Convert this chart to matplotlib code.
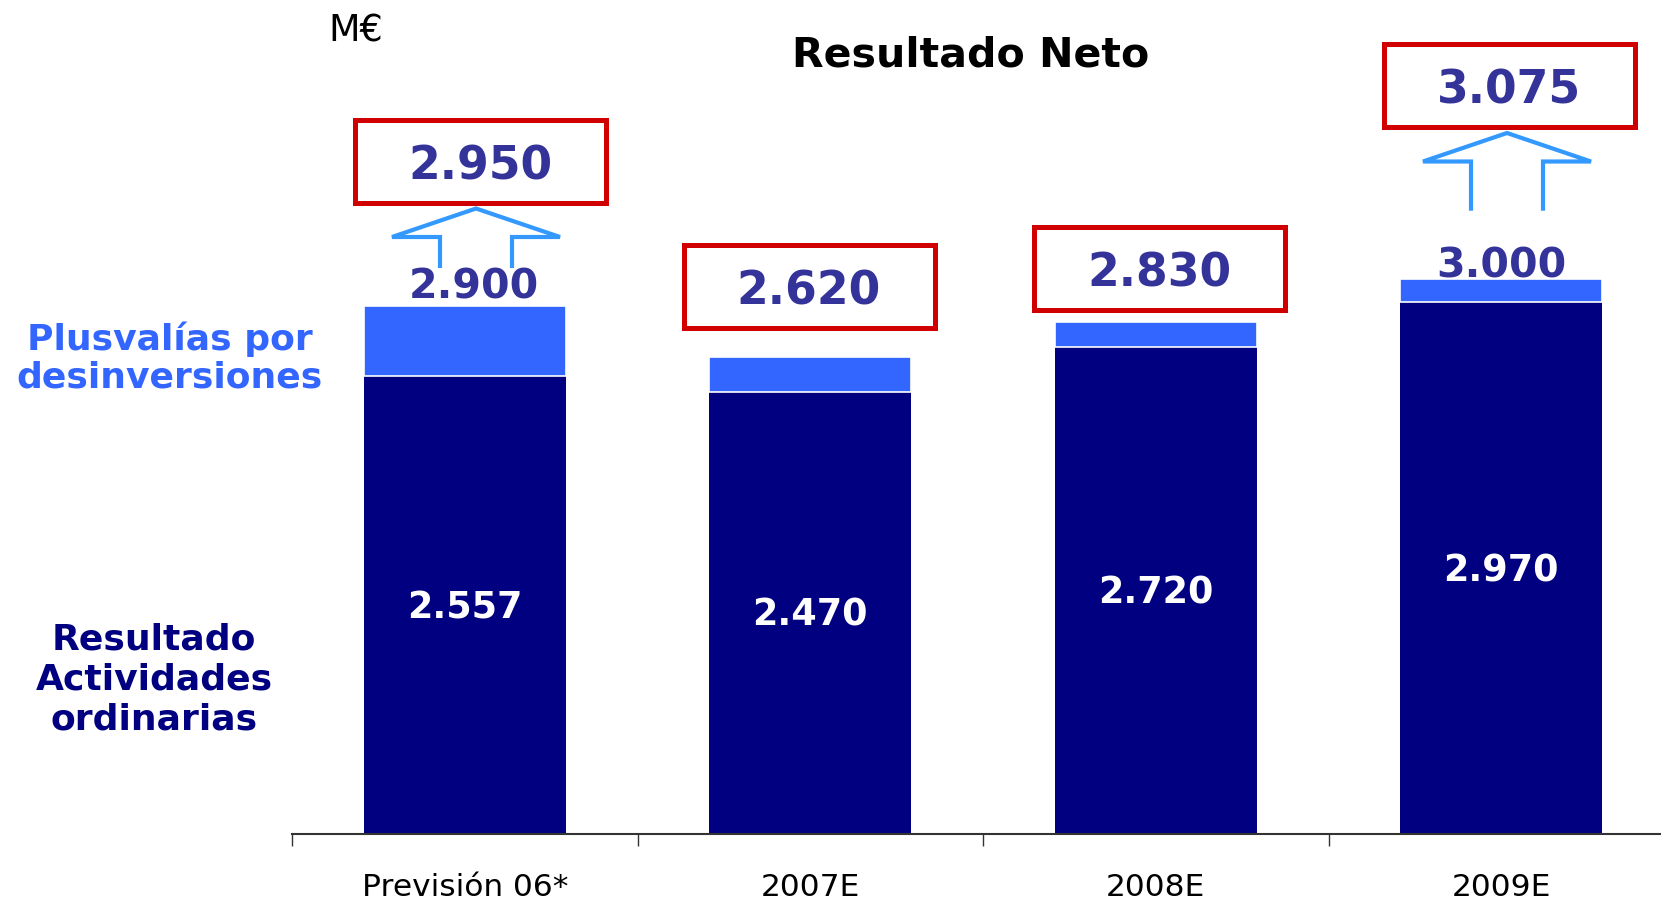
import matplotlib
matplotlib.use("Agg")
import matplotlib.pyplot as plt
from matplotlib.patches import Rectangle
from matplotlib.lines import Line2D

# ---------------- data ----------------
categories = ["Previsión 06*", "2007E", "2008E", "2009E"]
resultado_ordinario = [2557, 2470, 2720, 2970]      # Resultado Actividades ordinarias
plusvalias = [390, 195, 140, 130]                   # Plusvalías por desinversiones (bar heights as drawn)
resultado_neto = [2900, 2620, 2830, 3000]           # totals written above the bars
resultado_objetivo = [2950, 2620, 2830, 3075]       # values in the red boxes

# ---------------- style ----------------
NAVY = "#000080"
BLUE = "#3366FF"
LABEL = "#333399"
RED = "#D00000"
ARROW = "#3399FF"
W, H = 1661, 901
DPI = 100
plt.rcParams["font.family"] = ["DejaVu Sans"]


def fmt(v):
    return f"{v:,}".replace(",", ".")


fig = plt.figure(figsize=(W / DPI, H / DPI), dpi=DPI)
fig.patch.set_facecolor("white")

# main bar axes (right edge runs a little past the figure as in the original)
ax_left, ax_right, ax_bottom_px = 292, 1674, 833.5
ax = fig.add_axes([ax_left / W, (H - ax_bottom_px) / H,
                   (ax_right - ax_left) / W, ax_bottom_px / H])
ax.set_xlim(-0.5, len(categories) - 0.5)
ax.set_ylim(0, 4658)
ax.patch.set_alpha(0)

x = list(range(len(categories)))
bw = 0.585
ax.bar(x, resultado_ordinario, width=bw, color=NAVY, linewidth=0, zorder=2)
ax.bar(x, plusvalias, bottom=resultado_ordinario, width=bw, color=BLUE,
       edgecolor="white", linewidth=1.2, zorder=2)

for xi, v in zip(x, resultado_ordinario):
    ax.annotate(fmt(v), (xi, v / 2), xytext=(0, -9.6), textcoords="offset points",
                ha="center", va="baseline", color="white", fontsize=26.3,
                fontweight="bold", zorder=3)

for s in ["top", "right", "left"]:
    ax.spines[s].set_visible(False)
ax.spines["bottom"].set_linewidth(1.5)
ax.spines["bottom"].set_color("#333333")
ax.set_yticks([])
ax.set_xticks(x)
ax.set_xticklabels(categories, fontsize=22.5, color="black")
ax.tick_params(axis="x", which="major", length=0, pad=28.5)
ax.set_xticks([i - 0.5 for i in range(len(categories) + 1)], minor=True)
ax.tick_params(axis="x", which="minor", length=8.6, width=1.0, color="#333333",
               direction="out")

# overlay in pixel coordinates for annotations
ov = fig.add_axes([0, 0, 1, 1], zorder=5)
ov.set_xlim(0, W)
ov.set_ylim(H, 0)
ov.axis("off")
ov.patch.set_alpha(0)

ov.text(971, 66.7, "Resultado Neto", ha="center", va="baseline",
        fontsize=29.6, fontweight="bold", color="black")
ov.text(328, 42, "M€", ha="left", va="baseline", fontsize=26.3, color="black")

# side labels
for txt, yb in [("Plusvalías por", 350), ("desinversiones", 388)]:
    ov.text(170, yb, txt, ha="center", va="baseline", fontsize=26,
            fontweight="bold", color=BLUE)
for txt, yb in [("Resultado", 650), ("Actividades", 690), ("ordinarias", 730)]:
    ov.text(154, yb, txt, ha="center", va="baseline", fontsize=26,
            fontweight="bold", color=NAVY)

# red boxes with the target values
box_x = [480, 809, 1159.5, 1509.5]
box_y = [161, 286.4, 268.4, 85.5]
box_w, box_h = 251, 83
for bx, by, v in zip(box_x, box_y, resultado_objetivo):
    ov.add_patch(Rectangle((bx - box_w / 2, by - box_h / 2), box_w, box_h,
                           fill=False, edgecolor=RED, linewidth=3.6,
                           joinstyle="miter"))
    ov.text(bx, by + 18.5, fmt(v), ha="center", va="baseline",
            fontsize=32.9, fontweight="bold", color=LABEL)

# totals + hollow arrows where the target is above the total
total_pos = {0: (474, 298.3), 3: (1501, 277.3)}
arrow_geo = {0: (476, 208.5, 237, 268), 3: (1507, 133, 161.5, 210.7)}
for i, (neto, obj) in enumerate(zip(resultado_neto, resultado_objetivo)):
    if obj != neto:
        tx, tb = total_pos[i]
        ov.text(tx, tb, fmt(neto), ha="center", va="baseline", fontsize=29.6,
                fontweight="bold", color=LABEL, zorder=6)
        cx, tip, base, bot = arrow_geo[i]
        hw, sw = 84, 36
        xs = [cx - sw, cx - sw, cx - hw, cx, cx + hw, cx + sw, cx + sw]
        ys = [bot, base, base, tip, base, base, bot]
        ov.add_line(Line2D(xs, ys, color=ARROW, linewidth=3.0,
                           solid_joinstyle="miter", solid_capstyle="butt"))

fig.savefig("out.png", dpi=DPI, facecolor="white")
